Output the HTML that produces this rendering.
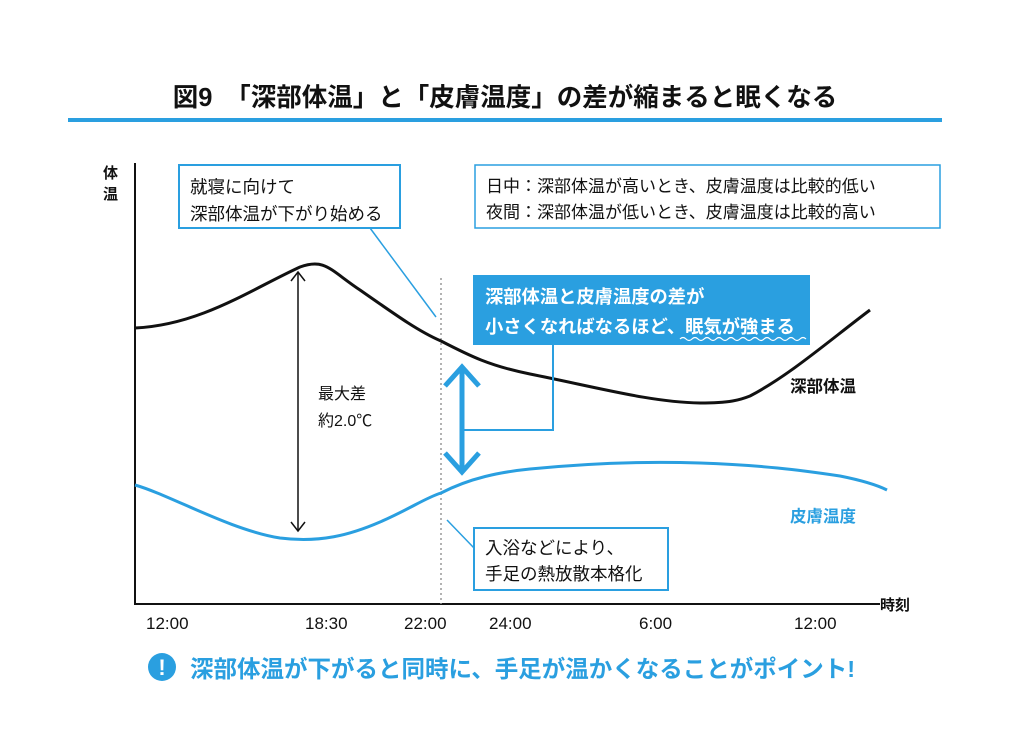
<!DOCTYPE html>
<html><head><meta charset="utf-8"><style>
body{margin:0;background:#fff}
text{font-family:"Liberation Sans","Noto Sans CJK JP",sans-serif}
</style></head><body>
<svg width="1032" height="746" viewBox="0 0 1032 746" xmlns="http://www.w3.org/2000/svg">
<rect width="1032" height="746" fill="#fff"/>
<text x="505" y="106" font-size="25.5" font-weight="bold" text-anchor="middle" fill="#111">図9　「深部体温」と「皮膚温度」の差が縮まると眠くなる</text>
<rect x="68" y="118" width="874" height="4" fill="#2a9fe0"/>
<line x1="135" y1="163" x2="135" y2="605" stroke="#111" stroke-width="2"/>
<line x1="134" y1="604" x2="880" y2="604" stroke="#111" stroke-width="2"/>
<text x="103" y="178" font-size="15" font-weight="bold" fill="#111">体</text>
<text x="103" y="199" font-size="15" font-weight="bold" fill="#111">温</text>
<text x="880" y="610" font-size="15" font-weight="bold" fill="#111">時刻</text>
<g font-size="17" fill="#111">
<text x="146" y="629">12:00</text><text x="305" y="629">18:30</text><text x="404" y="629">22:00</text>
<text x="489" y="629">24:00</text><text x="639" y="629">6:00</text><text x="794" y="629">12:00</text>
</g>
<line x1="441" y1="278" x2="441" y2="604" stroke="#999" stroke-width="1.5" stroke-dasharray="2,3"/>
<path d="M135,328 C200,325 250,290 300,267 C325,258 330,270 360,290 C400,318 420,332 441,341 C470,356 490,366 530,374 C600,388 650,402 700,403 C730,403 740,400 750,396 C790,375 830,340 870,310" fill="none" stroke="#111" stroke-width="3"/>
<path d="M135,485 C170,495 230,530 280,538 C320,543 350,535 380,522 C410,509 425,498 441,493 C470,478 500,472 530,469 C580,464 640,461 700,463 C760,465 800,470 840,476 C860,480 875,484 887,490" fill="none" stroke="#2a9fe0" stroke-width="3"/>
<line x1="298" y1="272" x2="298" y2="531" stroke="#111" stroke-width="1.5"/>
<polyline points="291,281 298,272 305,281" fill="none" stroke="#111" stroke-width="1.5"/>
<polyline points="291,522 298,531 305,522" fill="none" stroke="#111" stroke-width="1.5"/>
<text x="318" y="399" font-size="16" fill="#111">最大差</text>
<text x="318" y="426" font-size="16" fill="#111">約2.0℃</text>
<text x="790" y="392" font-size="16.5" font-weight="bold" fill="#111">深部体温</text>
<text x="790" y="522" font-size="16.5" font-weight="bold" fill="#2a9fe0">皮膚温度</text>
<line x1="462" y1="368" x2="462" y2="470" stroke="#2a9fe0" stroke-width="5"/>
<polyline points="445,386 462,367 479,386" fill="none" stroke="#2a9fe0" stroke-width="5"/>
<polyline points="445,453 462,472 479,453" fill="none" stroke="#2a9fe0" stroke-width="5"/>
<polyline points="553,345 553,430 464,430" fill="none" stroke="#2a9fe0" stroke-width="2"/>
<rect x="179" y="165" width="221" height="63" fill="#fff" stroke="#2a9fe0" stroke-width="2"/>
<text x="190" y="193" font-size="17.5" fill="#111">就寝に向けて</text>
<text x="190" y="220" font-size="17.5" fill="#111">深部体温が下がり始める</text>
<line x1="370" y1="228" x2="436" y2="317" stroke="#2a9fe0" stroke-width="1.5"/>
<rect x="475" y="165" width="465" height="63" fill="#fff" stroke="#2a9fe0" stroke-width="1.5"/>
<text x="486" y="192" font-size="17" fill="#111">日中：深部体温が高いとき、皮膚温度は比較的低い</text>
<text x="486" y="218" font-size="17" fill="#111">夜間：深部体温が低いとき、皮膚温度は比較的高い</text>
<rect x="473" y="275" width="337" height="70" fill="#2a9fe0"/>
<text x="485" y="303" font-size="18.3" font-weight="bold" fill="#fff">深部体温と皮膚温度の差が</text>
<text x="485" y="333" font-size="18.3" font-weight="bold" fill="#fff">小さくなればなるほど、眠気が強まる</text>
<path d="M680,339 q3,-3 6,0 t6,0 t6,0 t6,0 t6,0 t6,0 t6,0 t6,0 t6,0 t6,0 t6,0 t6,0 t6,0 t6,0 t6,0 t6,0 t6,0 t6,0 t6,0 t6,0 t6,0" fill="none" stroke="#fff" stroke-width="1.2"/>
<rect x="474" y="528" width="194" height="62" fill="#fff" stroke="#2a9fe0" stroke-width="2"/>
<text x="485" y="554" font-size="17.5" fill="#111">入浴などにより、</text>
<text x="485" y="580" font-size="17.5" fill="#111">手足の熱放散本格化</text>
<line x1="447" y1="520" x2="474" y2="548" stroke="#2a9fe0" stroke-width="1.5"/>
<circle cx="162" cy="667" r="14" fill="#2a9fe0"/>
<text x="162" y="675" font-size="22" font-weight="bold" fill="#fff" text-anchor="middle">!</text>
<text x="190" y="677" font-size="23.5" font-weight="bold" fill="#2a9fe0">深部体温が下がると同時に、手足が温かくなることがポイント!</text>
</svg>
</body></html>
